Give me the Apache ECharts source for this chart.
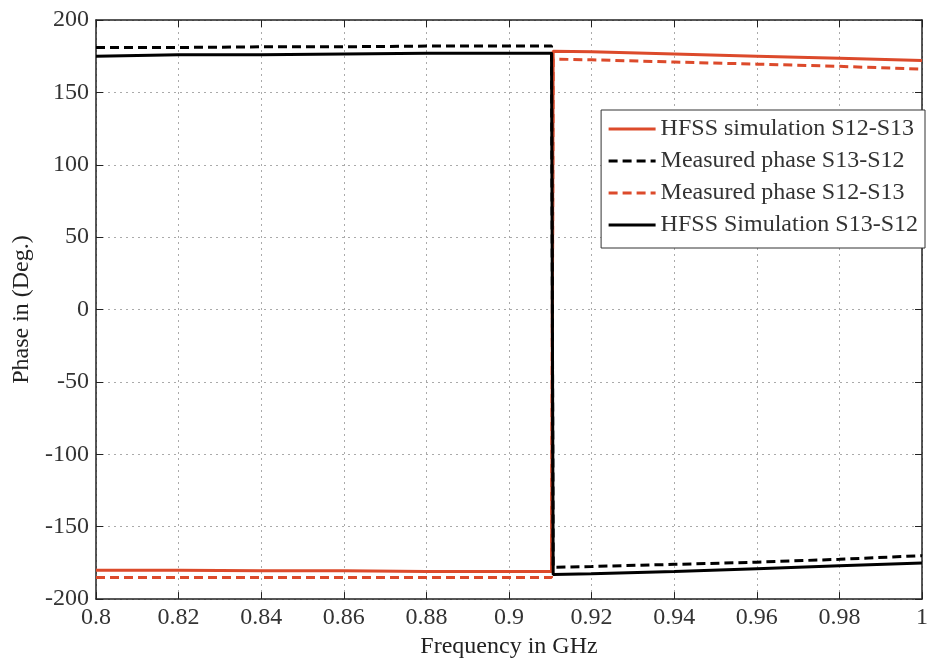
<!DOCTYPE html>
<html>
	<head>
		<meta charset="utf-8">
		<title></title>
		<script src="https://cdn.jsdelivr.net/npm/echarts@6/dist/echarts.min.js"></script>
	</head>
	<body style="margin:0;">
		<div id="my" style="width:931px;height:664px;"></div>
		<script>
			var myChart = echarts.init(document.getElementById('my'));

			// frequency points (GHz), jump near 0.9105
			var freq = [0.8, 0.82, 0.84, 0.86, 0.88, 0.9, 0.9103, 0.9107, 0.92, 0.94, 0.96, 0.98, 1.0];
			var hfss1213 = [-180, -180, -180.5, -180.5, -181, -181, -181, 178.5, 178, 176.5, 175, 173.5, 172];
			var meas1312 = [181, 181, 181.5, 181.5, 182, 182, 182, -178, -177.5, -176, -174.5, -172.5, -170];
			var meas1213 = [-185, -185, -185, -185, -185, -185, -185, 173, 172.5, 171, 169.5, 168, 166];
			var hfss1312 = [175, 176, 176, 176.5, 177, 177, 177, -183, -182.5, -181, -179, -177, -175];
			var names = ['HFSS simulation S12-S13', 'Measured phase S13-S12', 'Measured phase S12-S13', 'HFSS Simulation S13-S12'];

			function pts(arr) {
				return freq.map(function (f, i) { return [f, arr[i]]; });
			}

			var red = '#dc4a2b';
			var font = 'Liberation Serif';

			function line(name, arr, color, type) {
				return {
					name: name,
					type: 'line',
					data: pts(arr),
					showSymbol: false,
					symbol: 'none',
					lineStyle: { color: color, width: 3, type: type },
					itemStyle: { color: color }
				};
			}

			var option = {
				animation: false,
				grid: { left: 96, right: 6, top: 20, bottom: 64, show: false },
				legend: {
					orient: 'vertical',
					right: 6,
					top: 110,
					padding: [7, 7, 11, 6],
					backgroundColor: '#fff',
					borderColor: '#333',
					borderWidth: 1,
					itemWidth: 47,
					itemHeight: 14,
					itemGap: 8,
					itemStyle: { opacity: 0 },
					lineStyle: { width: 3 },
					textStyle: { fontFamily: font, fontSize: 24, color: '#333' },
					data: names
				},
				xAxis: [{
					type: 'value',
					min: 0.8,
					max: 1,
					interval: 0.02,
					name: 'Frequency in GHz',
					nameLocation: 'middle',
					nameGap: 35,
					nameTextStyle: { fontFamily: font, fontSize: 24, color: '#222' },
					axisLine: { onZero: false, lineStyle: { color: '#222', width: 1.5 } },
					axisTick: { inside: true, length: 7, lineStyle: { color: '#222' } },
					axisLabel: {
						fontFamily: font, fontSize: 24, color: '#333', margin: 7,
						formatter: function (v) { return String(+v.toFixed(2)); }
					},
					splitLine: { show: true, lineStyle: { color: '#aaa', type: [2, 4], width: 1 } }
				}, {
					type: 'value',
					position: 'top',
					min: 0.8,
					max: 1,
					interval: 0.02,
					axisLine: { onZero: false, lineStyle: { color: '#222', width: 1.5 } },
					axisTick: { inside: true, length: 7, lineStyle: { color: '#222' } },
					axisLabel: { show: false },
					splitLine: { show: false }
				}],
				yAxis: [{
					type: 'value',
					min: -200,
					max: 200,
					interval: 50,
					name: 'Phase in (Deg.)',
					nameLocation: 'middle',
					nameGap: 62,
					nameTextStyle: { fontFamily: font, fontSize: 24, color: '#222' },
					axisLine: { show: true, onZero: false, lineStyle: { color: '#222', width: 1.5 } },
					axisTick: { show: true, inside: true, length: 7, lineStyle: { color: '#222' } },
					axisLabel: { fontFamily: font, fontSize: 24, color: '#333', margin: 7 },
					splitLine: { show: true, lineStyle: { color: '#aaa', type: [2, 4], width: 1 } }
				}, {
					type: 'value',
					position: 'right',
					min: -200,
					max: 200,
					interval: 50,
					axisLine: { show: true, onZero: false, lineStyle: { color: '#222', width: 1.5 } },
					axisTick: { show: true, inside: true, length: 7, lineStyle: { color: '#222' } },
					axisLabel: { show: false },
					splitLine: { show: false }
				}],
				series: [
					line(names[0], hfss1213, red, 'solid'),
					line(names[2], meas1213, red, [9, 5]),
					line(names[1], meas1312, '#000', [9, 5]),
					line(names[3], hfss1312, '#000', 'solid')
				]
			};

			myChart.setOption(option);
		</script>
	</body>
</html>
